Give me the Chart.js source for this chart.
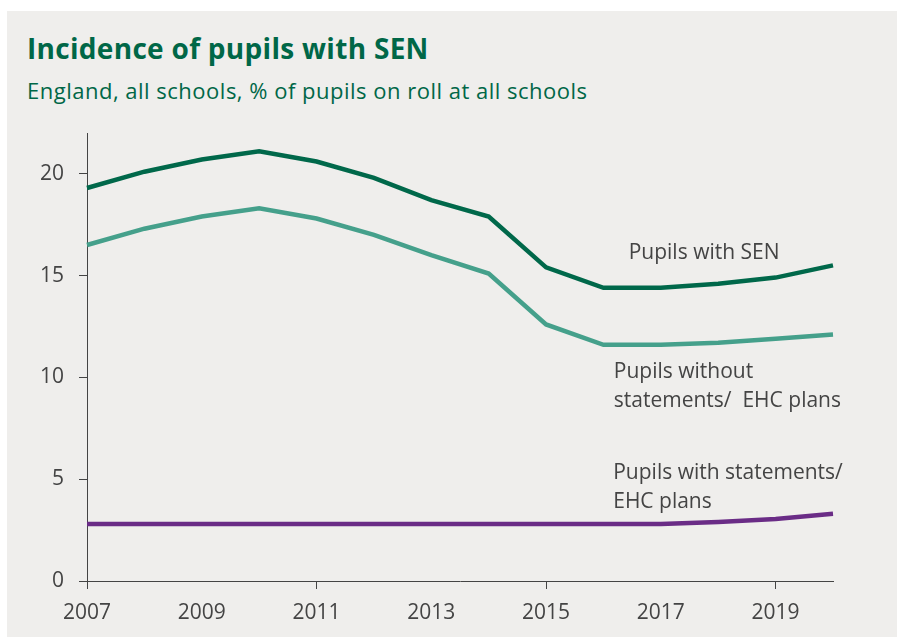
<!DOCTYPE html>
<html>
<head>
<meta charset="utf-8">
<script src="https://cdn.jsdelivr.net/npm/chart.js@4.4.1/dist/chart.umd.min.js"></script>
<style>
  html, body { margin: 0; padding: 0; background: #ffffff; width: 897px; height: 637px; overflow: hidden; }
  #panel { position: absolute; left: 7px; top: 11px; width: 890px; height: 626px; background: #efeeec; }
  #title { position: absolute; left: 27px; top: 34px; margin: 0; font-family: "Open Sans", sans-serif; font-weight: 700; font-size: 28px; line-height: 28px; letter-spacing: 0.3px; color: #006747; white-space: nowrap; }
  #subtitle { position: absolute; left: 27px; top: 79px; margin: 0; font-family: "Open Sans", sans-serif; font-weight: 400; font-size: 22px; line-height: 22px; letter-spacing: 0.5px; color: #006747; white-space: nowrap; }
  #chart { position: absolute; left: 0; top: 0; }
</style>
</head>
<body>
<div id="panel"></div>
<h1 id="title">Incidence of pupils with SEN</h1>
<p id="subtitle">England, all schools, % of pupils on roll at all schools</p>
<canvas id="chart" width="897" height="637"></canvas>
<script>
// ---- Data ----
const years = ["2007","2008","2009","2010","2011","2012","2013","2014","2015","2016","2017","2018","2019","2020"];
const pupilsWithSEN = [19.3, 20.1, 20.7, 21.1, 20.6, 19.8, 18.7, 17.9, 15.4, 14.4, 14.4, 14.6, 14.9, 15.5];
const pupilsWithoutStatements = [16.5, 17.3, 17.9, 18.3, 17.8, 17.0, 16.0, 15.1, 12.6, 11.6, 11.6, 11.7, 11.9, 12.1];
const pupilsWithStatements = [2.8, 2.8, 2.8, 2.8, 2.8, 2.8, 2.8, 2.8, 2.8, 2.8, 2.8, 2.9, 3.05, 3.3];
const yTicks = [0, 5, 10, 15, 20];
const seriesNames = ["Pupils with SEN", "Pupils without statements/ EHC plans", "Pupils with statements/ EHC plans"];

// ---- Direct labels (anchored in data coordinates) ----
const labelTexts = [
  ["Pupils with SEN"],
  ["Pupils without", "statements/  EHC plans"],
  ["Pupils with statements/", "EHC plans"]
];
const labelYears = [2016.44, 2016.18, 2016.17];
const labelValues = [16.13, 10.26, 5.31];

const TEXT = "#444444";
const FONT = "Open Sans";

const directLabels = {
  id: "directLabels",
  afterDatasetsDraw(chart) {
    const { ctx, scales: { x, y } } = chart;
    ctx.save();
    ctx.font = "21px '" + FONT + "'";
    ctx.fillStyle = TEXT;
    ctx.textAlign = "left";
    ctx.textBaseline = "middle";
    labelTexts.forEach((lines, i) => {
      const px = x.getPixelForValue(labelYears[i] - Number(years[0]));
      const py = y.getPixelForValue(labelValues[i]);
      lines.forEach((t, j) => ctx.fillText(t, px, py + j * 29));
    });
    ctx.restore();
  }
};

new Chart(document.getElementById("chart"), {
  type: "line",
  data: {
    labels: years,
    datasets: [
      { label: seriesNames[0], data: pupilsWithSEN, borderColor: "#00684a", borderWidth: 4.5, pointRadius: 0, tension: 0, fill: false },
      { label: seriesNames[1], data: pupilsWithoutStatements, borderColor: "#45a08b", borderWidth: 4.5, pointRadius: 0, tension: 0, fill: false },
      { label: seriesNames[2], data: pupilsWithStatements, borderColor: "#6a2c86", borderWidth: 4.5, pointRadius: 0, tension: 0, fill: false }
    ]
  },
  options: {
    responsive: false,
    animation: false,
    layout: { padding: { left: 7, right: 64, top: 133, bottom: 0 } },
    plugins: { legend: { display: false }, title: { display: false }, tooltip: { enabled: false } },
    scales: {
      x: {
        offset: false,
        border: { display: true, color: TEXT, width: 1 },
        grid: {
          display: true, drawOnChartArea: false, drawTicks: true, tickLength: 8, lineWidth: 1,
          color: c => (c.index % 2 === 0 ? TEXT : "rgba(0,0,0,0)")
        },
        ticks: {
          autoSkip: false, maxRotation: 0, minRotation: 0, padding: 11,
          color: TEXT, font: { family: FONT, size: 21 },
          callback: (v, i) => (i % 2 === 0 ? years[i] : null)
        },
        afterFit: s => { s.height = 56; }
      },
      y: {
        min: 0, max: 22,
        border: { display: true, color: TEXT, width: 1 },
        grid: { display: true, drawOnChartArea: false, drawTicks: true, tickLength: 8, lineWidth: 1, color: TEXT },
        afterBuildTicks: s => { s.ticks = yTicks.map(v => ({ value: v })); },
        ticks: { padding: 15, color: TEXT, font: { family: FONT, size: 21 } },
        afterFit: s => { s.width = 80; }
      }
    }
  },
  plugins: [directLabels]
});
</script>
</body>
</html>
